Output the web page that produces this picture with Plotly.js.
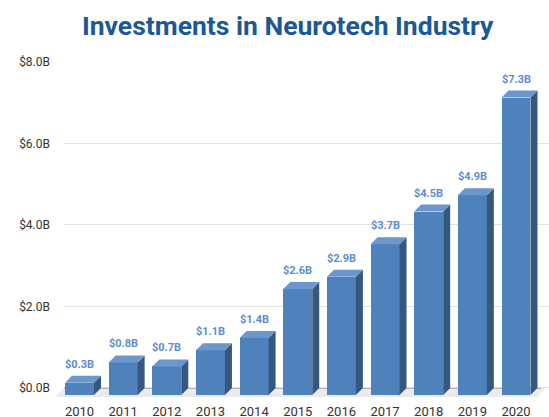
<!DOCTYPE html>
<html>
<head>
<meta charset="utf-8">
<script src="https://cdn.plot.ly/plotly-3.0.1.min.js"></script>
<style>html,body{margin:0;padding:0;background:#fff;}#chart{width:549px;height:417px;}</style>
</head>
<body>
<div id="chart"></div>
<script>
// ---- data ----
const years = ['2010','2011','2012','2013','2014','2015','2016','2017','2018','2019','2020'];
const values = [0.3, 0.8, 0.7, 1.1, 1.4, 2.6, 2.9, 3.7, 4.5, 4.9, 7.3];
const valueLabels = ['$0.3B','$0.8B','$0.7B','$1.1B','$1.4B','$2.6B','$2.9B','$3.7B','$4.5B','$4.9B','$7.3B'];
const yTickVals = [0, 2, 4, 6, 8];
const yTickText = ['$0.0B','$2.0B','$4.0B','$6.0B','$8.0B'];

// ---- geometry (style) ----
const W = 549, H = 417;
const M = {l: 64, r: 0, t: 62, b: 15};
const xRange = [-0.355, 10.756];
const yRange = [-0.344, 8];
const plotW = W - M.l - M.r, plotH = H - M.t - M.b;
const pxPerX = plotW / (xRange[1] - xRange[0]);
const pxPerY = plotH / (yRange[1] - yRange[0]);
const depthPx = 7;
const dx = depthPx / pxPerX, dy = depthPx / pxPerY;
const bw = 0.664;

const xs = years.map((_, i) => i);

const sideX = [], sideY = [], topX = [], topY = [];
xs.forEach((x, i) => {
  const v = values[i];
  const r = x + bw / 2, l = x - bw / 2;
  sideX.push(r, r + dx, r + dx, r, r, null);
  sideY.push(v - dy, v, 0, -dy, v - dy, null);
  topX.push(l, l + dx, r + dx, r, l, null);
  topY.push(v - dy, v, v, v - dy, v - dy, null);
});

const frontTrace = {
  type: 'bar', x: xs, y: values, base: values.map(() => -dy), width: bw,
  marker: {color: '#4f81bd', line: {width: 0}}, hoverinfo: 'skip'
};
const sideTrace = {
  type: 'scatter', mode: 'lines', x: sideX, y: sideY, fill: 'toself',
  fillcolor: '#36587f', line: {width: 0, color: '#36587f'}, hoverinfo: 'skip'
};
const topTrace = {
  type: 'scatter', mode: 'lines', x: topX, y: topY, fill: 'toself',
  fillcolor: '#6d96cc', line: {width: 0, color: '#6d96cc'}, hoverinfo: 'skip'
};

const annotations = xs.map((x, i) => ({
  x: x, y: values[i], text: valueLabels[i], showarrow: false,
  xanchor: 'center', yanchor: 'bottom', yshift: 3,
  font: {family: 'Roboto', size: 11, weight: 700, color: '#5b8dd0'}
}));

// floor (paper coordinates derived from pixel layout)
const py = p => (M.t + plotH - p) / plotH;
const pxp = p => (p - M.l) / plotW;
const floorPath = 'M ' + pxp(64) + ' ' + py(388) + ' L ' + pxp(546) + ' ' + py(388) +
  ' L ' + pxp(537) + ' ' + py(397) + ' L ' + pxp(55) + ' ' + py(397) + ' Z';

const layout = {
  width: W, height: H, margin: M,
  paper_bgcolor: '#fff', plot_bgcolor: '#fff',
  showlegend: false, bargap: 0,
  title: {
    text: 'Investments in Neurotech Industry',
    font: {family: 'Roboto', size: 26.5, weight: 700, color: '#1c5796'},
    xref: 'container', x: 0.524, xanchor: 'center',
    yref: 'container', y: 0.961, yanchor: 'top'
  },
  xaxis: {
    range: xRange, tickvals: xs, ticktext: years, showgrid: false, zeroline: false,
    showline: false, ticks: '', tickfont: {family: 'Roboto', size: 13, color: '#333'},
    fixedrange: true
  },
  yaxis: {
    range: yRange, tickvals: yTickVals, ticktext: yTickText, showgrid: true,
    gridcolor: '#e2e2e2', gridwidth: 1, zeroline: false, showline: false, ticks: '',
    ticklabelstandoff: 13, tickfont: {family: 'Roboto', size: 12, color: '#333'},
    fixedrange: true
  },
  shapes: [
    {type: 'path', xref: 'paper', yref: 'paper', path: floorPath,
     fillcolor: '#ebebeb', line: {width: 0}, layer: 'below'},
    {type: 'line', xref: 'paper', yref: 'y', x0: 0, x1: pxp(541), y0: 0, y1: 0,
     line: {color: '#777', width: 1}, layer: 'below'}
  ],
  annotations: annotations
};

Plotly.newPlot('chart', [frontTrace, sideTrace, topTrace], layout, {displayModeBar: false, staticPlot: true});
</script>
</body>
</html>
